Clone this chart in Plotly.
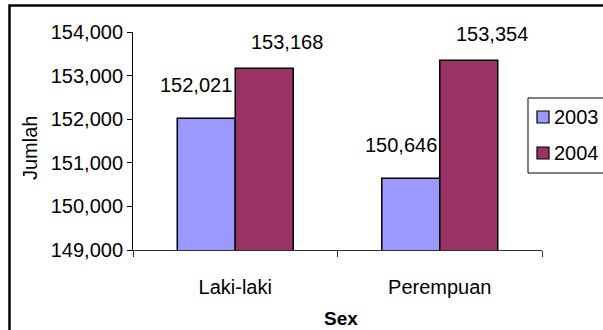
import plotly.graph_objects as go

# ---- data ----
categories = ["Laki-laki", "Perempuan"]
series_names = ["2003", "2004"]
values_2003 = [152021, 150646]
values_2004 = [153168, 153354]
series_values = [values_2003, values_2004]
series_colors = ["#9999FF", "#993366"]
y_tick_vals = [149000, 150000, 151000, 152000, 153000, 154000]

FONT = "Liberation Sans, Arial, sans-serif"
FS = 20

# plot area in pixels
W, H = 603, 330
L, R, T, B = 133, 542, 32, 250
PW, PH = R - L, B - T


def px(x):
    return (x - L) / PW


def py(y):
    return (B - y) / PH


fig = go.Figure()
for name, vals, col in zip(series_names, series_values, series_colors):
    fig.add_trace(go.Bar(
        x=categories, y=vals, name=name,
        marker=dict(color=col, line=dict(color="#000000", width=1.5)),
        showlegend=False,
    ))

# data labels
label_xshift = [-39, 52]
label_yshift = [33, 26]
annotations = []
for i, vals in enumerate(series_values):
    for cat, v in zip(categories, vals):
        annotations.append(dict(
            x=cat, y=v, xref="x", yref="y", text=f"{v:,}", showarrow=False,
            xanchor="center", yanchor="middle",
            xshift=label_xshift[i], yshift=label_yshift[i],
            font=dict(family=FONT, size=FS, color="#000000"),
        ))

# axis titles
annotations.append(dict(
    x=px(30), y=py(148), xref="paper", yref="paper", text="Jumlah",
    textangle=-90, showarrow=False, xanchor="center", yanchor="middle",
    font=dict(family=FONT, size=FS, color="#000000"),
))
annotations.append(dict(
    x=px(341), y=py(318), xref="paper", yref="paper", text="<b>Sex</b>",
    showarrow=False, xanchor="center", yanchor="middle",
    font=dict(family=FONT, size=19, color="#000000"),
))

shapes = []
# outer chart border
shapes.append(dict(type="rect", xref="paper", yref="paper",
                   x0=px(9.5), x1=px(640), y0=py(360), y1=py(5.5),
                   line=dict(color="#000000", width=2.5), fillcolor="rgba(0,0,0,0)"))
# legend box
shapes.append(dict(type="rect", xref="paper", yref="paper",
                   x0=px(528), x1=px(640), y0=py(173), y1=py(98),
                   line=dict(color="#000000", width=1), fillcolor="rgba(0,0,0,0)"))
legend_y = [117, 153]
for name, col, ly in zip(series_names, series_colors, legend_y):
    shapes.append(dict(type="rect", xref="paper", yref="paper",
                       x0=px(537), x1=px(549), y0=py(ly + 6), y1=py(ly - 6),
                       line=dict(color="#000000", width=1.2), fillcolor=col))
    annotations.append(dict(
        x=px(552), y=py(ly), xref="paper", yref="paper", text=name,
        showarrow=False, xanchor="left", yanchor="middle",
        font=dict(family=FONT, size=FS, color="#000000"),
    ))

fig.update_layout(
    width=W, height=H,
    margin=dict(l=L, r=W - R, t=T, b=H - B, pad=0),
    paper_bgcolor="#FFFFFF", plot_bgcolor="#FFFFFF",
    barmode="group", bargap=0.433, bargroupgap=0,
    showlegend=False,
    font=dict(family=FONT, size=FS, color="#000000"),
    annotations=annotations, shapes=shapes,
    xaxis=dict(
        type="category", range=[-0.5, 1.5], showline=True, linecolor="#333333",
        linewidth=1, ticks="outside", tickson="boundaries", ticklen=6,
        tickcolor="#333333", showgrid=False, zeroline=False,
        tickfont=dict(family=FONT, size=FS, color="#000000"),
        ticklabelstandoff=19, fixedrange=True,
    ),
    yaxis=dict(
        range=[149000, 154000], tickvals=y_tick_vals, tickformat=",",
        showline=True, linecolor="#000000", linewidth=1, ticks="outside",
        ticklen=5, tickcolor="#000000", showgrid=False, zeroline=False,
        tickfont=dict(family=FONT, size=FS, color="#000000"), fixedrange=True,
    ),
)

fig.write_html("out.html", config={"displayModeBar": False})
